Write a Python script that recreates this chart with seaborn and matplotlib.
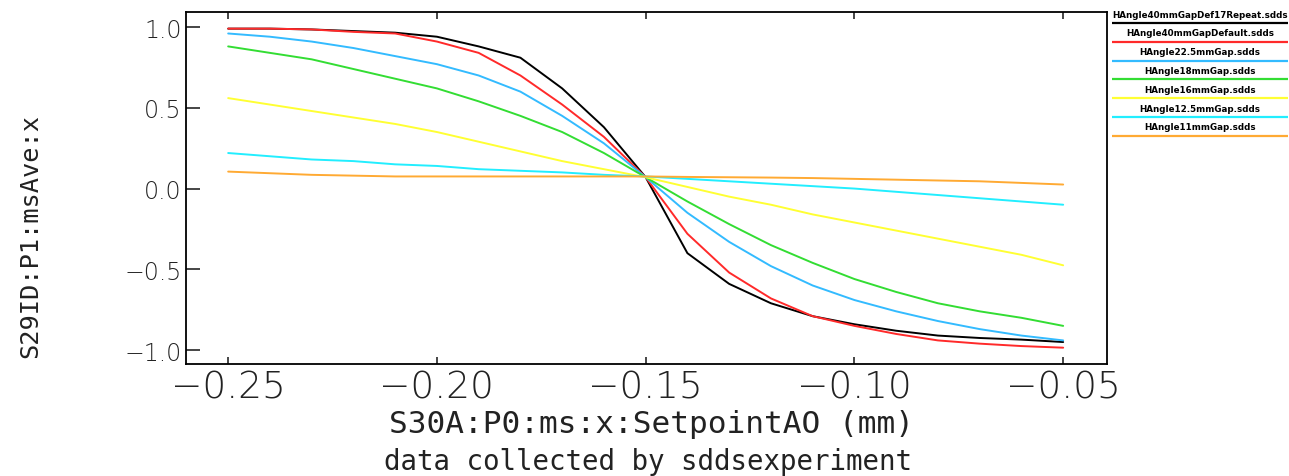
import numpy as np
import pandas as pd
import matplotlib
matplotlib.use("Agg")
import matplotlib.pyplot as plt
import seaborn as sns

x_values = [-0.25, -0.24, -0.23, -0.22, -0.21, -0.20, -0.19, -0.18, -0.17, -0.16, -0.15,
            -0.14, -0.13, -0.12, -0.11, -0.10, -0.09, -0.08, -0.07, -0.06, -0.05]

series_names = [
    "HAngle40mmGapDef17Repeat.sdds",
    "HAngle40mmGapDefault.sdds",
    "HAngle22.5mmGap.sdds",
    "HAngle18mmGap.sdds",
    "HAngle16mmGap.sdds",
    "HAngle12.5mmGap.sdds",
    "HAngle11mmGap.sdds",
]

black_vals = [0.99, 0.99, 0.985, 0.975, 0.965, 0.94, 0.88, 0.81, 0.62, 0.38, 0.07,
              -0.40, -0.59, -0.71, -0.79, -0.84, -0.88, -0.91, -0.925, -0.935, -0.95]
red_vals = [0.99, 0.99, 0.985, 0.97, 0.96, 0.91, 0.84, 0.70, 0.52, 0.32, 0.07,
            -0.28, -0.52, -0.68, -0.79, -0.85, -0.90, -0.94, -0.96, -0.975, -0.985]
blue_vals = [0.96, 0.94, 0.91, 0.87, 0.82, 0.77, 0.70, 0.60, 0.45, 0.28, 0.07,
             -0.15, -0.33, -0.48, -0.60, -0.69, -0.76, -0.82, -0.87, -0.91, -0.94]
green_vals = [0.88, 0.84, 0.80, 0.74, 0.68, 0.62, 0.54, 0.45, 0.35, 0.22, 0.07,
              -0.08, -0.22, -0.35, -0.46, -0.56, -0.64, -0.71, -0.76, -0.80, -0.85]
yellow_vals = [0.56, 0.52, 0.48, 0.44, 0.40, 0.35, 0.29, 0.23, 0.17, 0.12, 0.07,
               0.01, -0.05, -0.10, -0.16, -0.21, -0.26, -0.31, -0.36, -0.41, -0.475]
cyan_vals = [0.22, 0.20, 0.18, 0.17, 0.15, 0.14, 0.12, 0.11, 0.10, 0.085, 0.075,
             0.06, 0.045, 0.03, 0.015, 0.0, -0.02, -0.04, -0.06, -0.08, -0.10]
orange_vals = [0.105, 0.095, 0.085, 0.08, 0.075, 0.075, 0.075, 0.075, 0.075, 0.075, 0.075,
               0.072, 0.07, 0.068, 0.065, 0.06, 0.055, 0.05, 0.045, 0.035, 0.025]

colors = ["#000000", "#ff2a2a", "#33bbff", "#33dd33", "#ffff33", "#22eeff", "#ffaa33"]

x_ticks = [-0.25, -0.20, -0.15, -0.10, -0.05]
y_ticks = [-1.0, -0.5, 0.0, 0.5, 1.0]

all_vals = [black_vals, red_vals, blue_vals, green_vals, yellow_vals, cyan_vals, orange_vals]
frames = []
for name, vals in zip(series_names, all_vals):
    frames.append(pd.DataFrame({"x": x_values, "y": vals, "series": name}))
df = pd.concat(frames, ignore_index=True)

sns.set_style("white")
plt.rcParams["font.family"] = ["DejaVu Sans"]

fig = plt.figure(figsize=(12.89, 4.77), dpi=100)
ax = fig.add_axes([186 / 1289, 1 - 365 / 477, (1107 - 186) / 1289, (365 - 13) / 477])

sns.lineplot(data=df, x="x", y="y", hue="series", hue_order=series_names,
             palette=colors, linewidth=1.4, legend=False, ax=ax, sort=False)

ax.set_xlim(-0.2601, -0.0395)
ax.set_ylim(-1.086, 1.093)
ax.set_xticks(x_ticks)
ax.set_xticklabels(["\u22120.25", "\u22120.20", "\u22120.15", "\u22120.10", "\u22120.05"])
ax.set_yticks(y_ticks)
ax.set_yticklabels(["\u22121.0", "\u22120.5", "0.0", "0.5", "1.0"])
ax.set_xlabel("")
ax.set_ylabel("")

for s in ax.spines.values():
    s.set_visible(True)
    s.set_color("black")
    s.set_linewidth(1.3)

ax.tick_params(axis="x", which="major", direction="in", length=5, width=1.2,
               top=True, bottom=True, labelsize=27, pad=4, labelcolor="#222222")
ax.tick_params(axis="y", which="major", direction="in", length=10, width=1.2,
               left=True, right=False, labelsize=17, pad=3, labelcolor="#222222")
for lab in ax.get_xticklabels() + ax.get_yticklabels():
    lab.set_fontweight("light")

fig.text(651 / 1289, 1 - 425 / 477, "S30A:P0:ms:x:SetpointAO (mm)",
         family="DejaVu Sans Mono", fontsize=22.4, ha="center", va="center", color="#222222")
fig.text(648 / 1289, 1 - 462 / 477, "data collected by sddsexperiment",
         family="DejaVu Sans Mono", fontsize=19.8, ha="center", va="center", color="#222222")
fig.text(30 / 1289, 1 - 236 / 477, "S29ID:P1:msAve:x",
         family="DejaVu Sans Mono", fontsize=18.3, rotation=90, ha="center", va="center",
         color="#222222")

# legend panel
lax = fig.add_axes([1112 / 1289, 1 - 145 / 477, (1288 - 1112) / 1289, (145 - 5) / 477])
lax.set_xlim(0, 1)
lax.set_ylim(145, 5)
lax.axis("off")
for i, (name, c) in enumerate(zip(series_names, colors)):
    ty = 15 + i * 18.8
    ly = 24 + i * 18.8
    lax.text(0.5, ty, name, ha="center", va="center", fontsize=6.3, fontweight="bold",
             color="black")
    lax.plot([0.0, 1.0], [ly, ly], color=c, linewidth=1.6, solid_capstyle="butt")

fig.savefig("out.png", dpi=100)
